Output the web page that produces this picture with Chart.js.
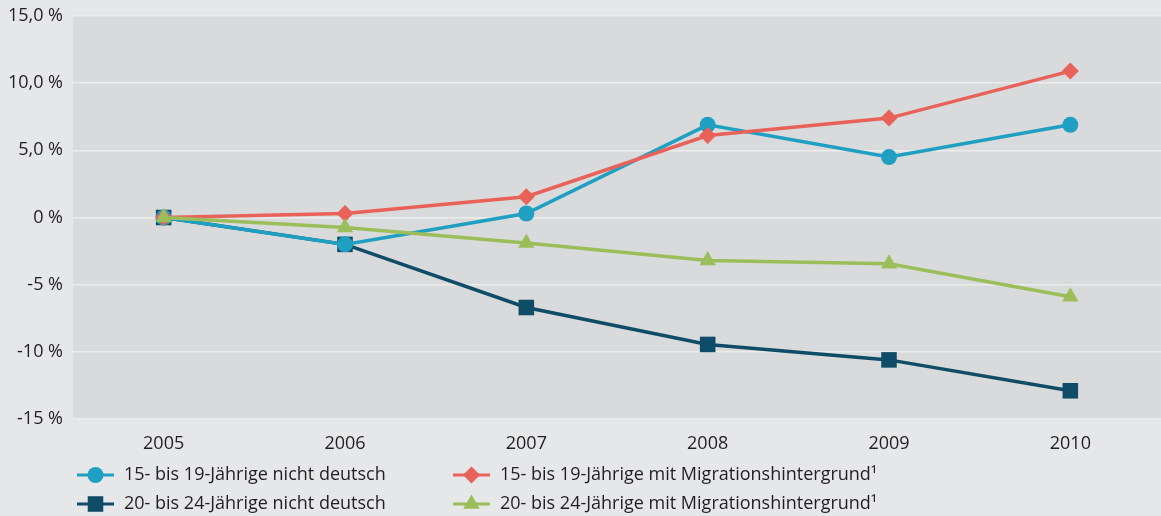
<!DOCTYPE html>
<html>
<head>
<meta charset="utf-8">
<script src="https://cdn.jsdelivr.net/npm/chart.js@4.4.1/dist/chart.umd.min.js"></script>
<style>
    html, body { margin: 0; padding: 0; background: #e6e7e8; }
    #wrap { width: 1161px; height: 516px; position: relative; }
</style>
</head>
<body>
<div id="wrap"><canvas id="chart" width="1161" height="516"></canvas></div>
<script>
// ======== Daten =========
const jahre = ['2005', '2006', '2007', '2008', '2009', '2010'];
const jung15NichtDeutsch = [0, -2.0, 0.3, 6.9, 4.5, 6.9];
const jung20NichtDeutsch = [0, -2.0, -6.7, -9.45, -10.6, -12.9];
const jung15Migration = [0, 0.3, 1.55, 6.1, 7.4, 10.9];
const jung20Migration = [0, -0.75, -1.9, -3.2, -3.45, -5.9];

const tickWerte = [-15, -10, -5, 0, 5, 10, 15];
const tickLabels = ['-15 %', '-10 %', '-5 %', '0 %', '5,0 %', '10,0 %', '15,0 %'];

const FONT = '"Open Sans", "Noto Sans", sans-serif';
const TEXT = '#231f20';

// Hintergrund der Plotfläche
const plotBg = {
    id: 'plotBg',
    beforeDraw(chart) {
        const { ctx, chartArea: a } = chart;
        ctx.save();
        ctx.fillStyle = '#d9dadb';
        ctx.fillRect(a.left, a.top, a.right - a.left, a.bottom - a.top);
        ctx.restore();
    }
};

// Legende in zwei Spalten
const legendPos = [
    { ds: 0, x: 77, y: 475 },
    { ds: 1, x: 77, y: 504 },
    { ds: 2, x: 453, y: 475 },
    { ds: 3, x: 453, y: 504 }
];
const legende = {
    id: 'legende',
    afterDraw(chart) {
        const ctx = chart.ctx;
        legendPos.forEach(p => {
            const ds = chart.data.datasets[p.ds];
            ctx.save();
            ctx.strokeStyle = ds.borderColor;
            ctx.lineWidth = 3;
            ctx.beginPath();
            ctx.moveTo(p.x, p.y);
            ctx.lineTo(p.x + 37, p.y);
            ctx.stroke();
            ctx.fillStyle = ds.borderColor;
            Chart.helpers.drawPoint(ctx, {
                pointStyle: ds.pointStyle,
                radius: ds.pointRadius,
                rotation: 0,
                borderWidth: 0
            }, p.x + 18.5, p.y);
            ctx.fillStyle = TEXT;
            ctx.font = '18px ' + FONT;
            ctx.textBaseline = 'middle';
            ctx.textAlign = 'left';
            ctx.fillText(ds.label, p.x + 47, p.y);
            ctx.restore();
        });
    }
};

function serie(label, data, farbe, stil, radius, order) {
    return {
        label: label,
        data: data,
        borderColor: farbe,
        backgroundColor: farbe,
        pointBackgroundColor: farbe,
        pointBorderWidth: 0,
        pointStyle: stil,
        pointRadius: radius,
        pointHoverRadius: radius,
        borderWidth: 3.5,
        tension: 0,
        clip: false,
        order: order
    };
}

function ohnePadding(s) {
    s.paddingTop = 0;
    s.paddingBottom = 0;
    s.paddingLeft = 0;
    s.paddingRight = 0;
}

new Chart(document.getElementById('chart').getContext('2d'), {
    type: 'line',
    data: {
        labels: jahre,
        datasets: [
            serie('15- bis 19-Jährige nicht deutsch', jung15NichtDeutsch, '#1fa0c3', 'circle', 8, 3),
            serie('20- bis 24-Jährige nicht deutsch', jung20NichtDeutsch, '#0f4c68', 'rect', 11, 4),
            serie('15- bis 19-Jährige mit Migrationshintergrund¹', jung15Migration, '#e8625a', 'rectRot', 8.5, 2),
            serie('20- bis 24-Jährige mit Migrationshintergrund¹', jung20Migration, '#9bbd5a', 'triangle', 9.5, 1)
        ]
    },
    options: {
        responsive: false,
        animation: false,
        layout: { autoPadding: false, padding: { top: 16, left: 0, right: 0, bottom: 0 } },
        plugins: {
            legend: { display: false },
            tooltip: { enabled: false }
        },
        scales: {
            x: {
                offset: true,
                grid: { display: false },
                border: { display: false },
                ticks: {
                    color: TEXT,
                    font: { family: FONT, size: 18 },
                    padding: 6,
                    maxRotation: 0
                },
                afterFit(s) { s.height = 97; ohnePadding(s); }
            },
            y: {
                min: -15,
                max: 15,
                grid: { color: '#ececec', lineWidth: 1.5, drawTicks: false },
                border: { display: false },
                afterBuildTicks(s) { s.ticks = tickWerte.map(v => ({ value: v })); },
                ticks: {
                    color: TEXT,
                    font: { family: FONT, size: 18 },
                    padding: 10,
                    callback: v => tickLabels[tickWerte.indexOf(v)]
                },
                afterFit(s) { s.width = 73; ohnePadding(s); }
            }
        }
    },
    plugins: [plotBg, legende]
});
</script>
</body>
</html>
